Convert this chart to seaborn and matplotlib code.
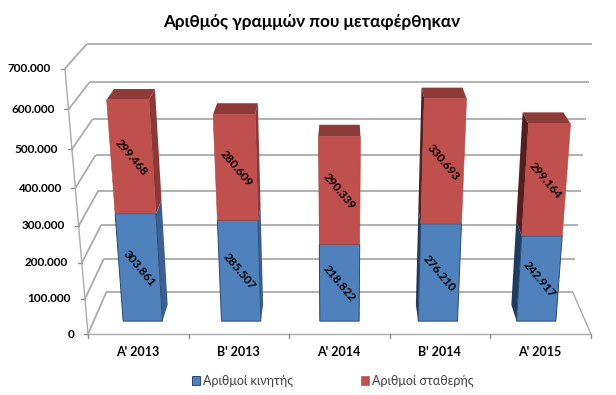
import numpy as np
import matplotlib
matplotlib.use('Agg')
import matplotlib.pyplot as plt
import matplotlib.transforms as mtransforms
import seaborn as sns

periods = ["Α' 2013", "Β' 2013", "Α' 2014", "Β' 2014", "Α' 2015"]
mobile = [303861, 285507, 218822, 276210, 242917]
fixed = [299468, 280609, 290339, 330693, 299164]
value_ticks = [0, 100000, 200000, 300000, 400000, 500000, 600000, 700000]

title = 'Αριθμός γραμμών που μεταφέρθηκαν'
mobile_name = 'Αριθμοί κινητής'
fixed_name = 'Αριθμοί σταθερής'

sns.set_theme(style='white')
plt.rcParams['font.family'] = ['Lato', 'Open Sans', 'DejaVu Sans']


# fake 3d look of the old excel chart: category, value and depth -> pixel
def project(x, v, z):
    x, v, z = np.asarray(x, float), np.asarray(v, float) / 1000, np.asarray(z, float)
    w = 1 - 1.2e-4 * v + 0.079 * z
    return 339.5 + 100.6 * (x - 2) / w, (334 - 19 * z - 0.3874 * v) / w


class Project(mtransforms.Transform):
    input_dims = 2
    output_dims = 2

    def __init__(self, z):
        super().__init__()
        self.z = z

    def transform_non_affine(self, values):
        values = np.asarray(values, float)
        px, py = project(values[:, 0], values[:, 1], self.z)
        return np.column_stack([px, py])


def face(ax, corners, color, zorder=2):
    px, py = project(*zip(*corners))
    ax.fill(px, py, color=color, lw=0, zorder=zorder)


def line(ax, a, b, lw=1.3):
    px, py = project(*zip(a, b))
    ax.plot(px, py, color='#ABABAB', lw=lw, zorder=1, solid_capstyle='butt')


fig, ax = plt.subplots(figsize=(6.16, 3.95), dpi=100)
fig.subplots_adjust(left=0, right=1, bottom=0, top=1)

bar_w = 0.4
z_front = 0.29
z_back = 0.68

sns.barplot(x=periods, y=mobile, color='#4F81BD', saturation=1, width=bar_w, errorbar=None,
            label=mobile_name, edgecolor='#2A4A72', linewidth=0.7, ax=ax, zorder=3)
sns.barplot(x=periods, y=fixed, bottom=mobile, color='#C0504D', saturation=1, width=bar_w, errorbar=None,
            label=fixed_name, edgecolor='#A84643', linewidth=0.4, ax=ax, zorder=3)

# the axes is used in pixels, the bars go through the projection
for patch in ax.patches:
    patch.set_transform(Project(z_front) + ax.transData)
    patch.set_clip_on(False)

ax.set_xlim(0, 616)
ax.set_ylim(395, 0)
ax.axis('off')

# walls
left, right = -0.5, 4.5
for v in value_ticks:
    line(ax, (left, v, 0), (left, v, 1))
    line(ax, (left, v, 1), (right, v, 1))
    px, py = project(left, v, 0)
    ax.plot([px - 4, px], [py, py], color='#8C8C8C', lw=1, zorder=1)
    ax.text(px - 14, py, f'{v:,}'.replace(',', '.'), ha='right', va='center',
            fontsize=8.5, fontweight='bold', color='black')
line(ax, (left, 0, 0), (left, 700000, 0), lw=1)
line(ax, (left, 0, 0), (right, 0, 0), lw=1)
line(ax, (right, 0, 0), (right, 0, 1), lw=1)
for i in range(len(periods) + 1):
    px, py = project(left + i, 0, 0)
    ax.plot([px, px], [py, py + 4], color='#8C8C8C', lw=1, zorder=1)

# sides, tops and labels
for i, name in enumerate(periods):
    m, f = mobile[i], fixed[i]
    l, r = i - bar_w / 2, i + bar_w / 2
    if i < 2:
        edge, blue, red = r, '#3B6091', '#8C3836'
    else:
        edge, blue, red = l, '#1F3B5E', '#541F1E'
    face(ax, [(edge, 0, z_front), (edge, 0, z_back), (edge, m, z_back), (edge, m, z_front)], blue)
    face(ax, [(edge, m, z_front), (edge, m, z_back), (edge, m + f, z_back), (edge, m + f, z_front)], red)
    top = m + f
    face(ax, [(l, top, z_front), (r, top, z_front), (r, top, z_back), (l, top, z_back)], '#8E3A38')

    for val, mid in [(m, m / 2), (f, m + f / 2)]:
        px, py = project(i, mid, z_front)
        ax.text(px, py, f'{val:,}'.replace(',', '.'), rotation=-50, rotation_mode='anchor',
                ha='center', va='center', fontsize=8.5, fontweight='bold', color='black', zorder=5)

    px, py = project(i, 0, 0)
    ax.text(px - 1, py + 18, name, ha='center', va='center', fontsize=9,
            fontweight='bold', color='black')

ax.text(311.5, 21.5, title, ha='center', va='center', fontsize=12.3, fontweight='bold', color='black')

ax.legend(loc='center', bbox_to_anchor=(333, 381), bbox_transform=ax.transData, ncol=2, frameon=False,
          fontsize=9, handlelength=0.65, handleheight=0.65, handletextpad=0.25, columnspacing=5.4,
          labelcolor='#404040')

fig.savefig('out.png', dpi=100)
